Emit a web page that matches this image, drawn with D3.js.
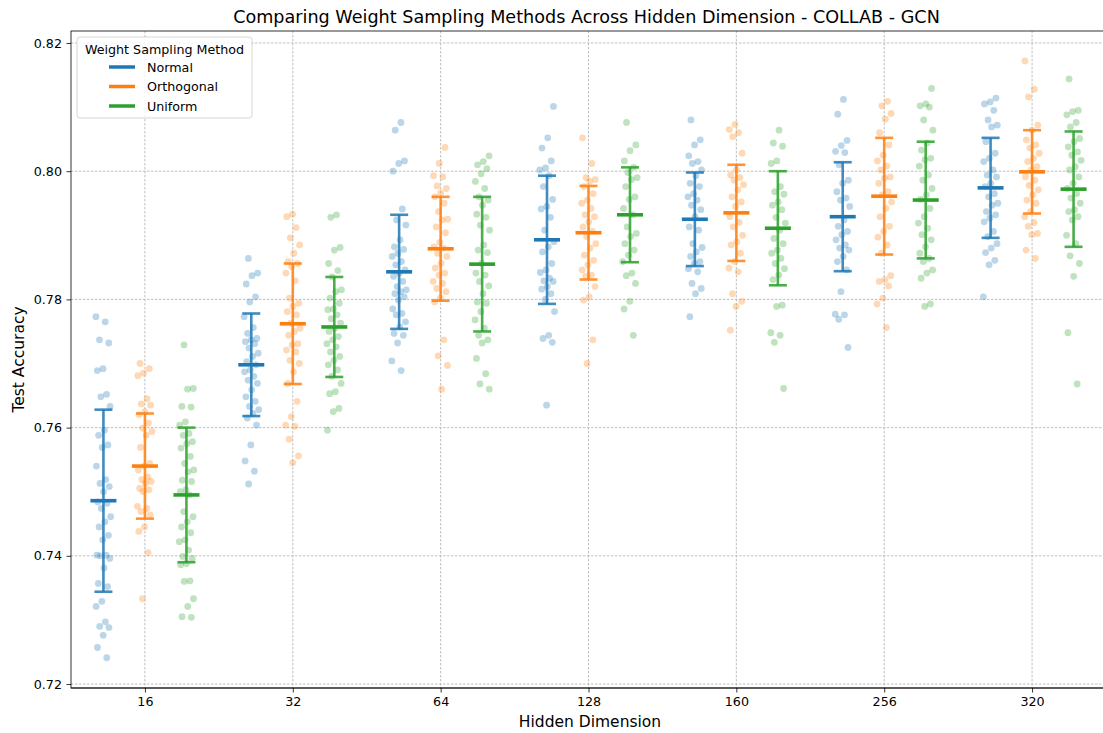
<!DOCTYPE html>
<html>
<head>
<meta charset="utf-8">
<script src="https://cdn.jsdelivr.net/npm/d3@7"></script>
<style>
  body { margin: 0; background: #fff; }
  svg text { font-family: "DejaVu Sans", sans-serif; }
</style>
</head>
<body>
<svg width="1103" height="733"></svg>
<script>
(function () {
    'use strict';

    var dims = ['16', '32', '64', '128', '160', '256', '320'];
    var methods = ['Normal', 'Orthogonal', 'Uniform'];
    var colors = ['#1f77b4', '#ff7f0e', '#2ca02c'];
    var yTicks = [0.72, 0.74, 0.76, 0.78, 0.80, 0.82];

    // mean and std per dim
    var meanNormal = [0.7486, 0.7698, 0.7843, 0.7893, 0.7925, 0.7929, 0.7974];
    var stdNormal  = [0.0142, 0.0080, 0.0089, 0.0100, 0.0073, 0.0085, 0.0078];
    var meanOrtho  = [0.7540, 0.7762, 0.7879, 0.7904, 0.7935, 0.7961, 0.7999];
    var stdOrtho   = [0.0082, 0.0094, 0.0081, 0.0073, 0.0075, 0.0091, 0.0065];
    var meanUnif   = [0.7495, 0.7757, 0.7855, 0.7932, 0.7911, 0.7955, 0.7972];
    var stdUnif    = [0.0105, 0.0078, 0.0105, 0.0074, 0.0089, 0.0091, 0.0090];

    // individual runs
    var runsNormal = [
        [0.7773, 0.7765, 0.7737, 0.7732, 0.7692, 0.7689, 0.7652, 0.7648, 0.7633, 0.7596, 0.7588, 0.7573, 0.7569, 0.7540, 0.7519, 0.7513, 0.7508, 0.7500, 0.7484, 0.7482, 0.7474, 0.7461, 0.7453, 0.7445, 0.7432, 0.7425, 0.7401, 0.7401, 0.7400, 0.7396, 0.7381, 0.7357, 0.7352, 0.7329, 0.7321, 0.7297, 0.7290, 0.7288, 0.7276, 0.7257, 0.7241],
        [0.7864, 0.7841, 0.7837, 0.7824, 0.7804, 0.7796, 0.7773, 0.7756, 0.7747, 0.7739, 0.7737, 0.7734, 0.7731, 0.7724, 0.7716, 0.7711, 0.7703, 0.7698, 0.7690, 0.7687, 0.7680, 0.7674, 0.7669, 0.7659, 0.7648, 0.7641, 0.7633, 0.7628, 0.7622, 0.7615, 0.7604, 0.7573, 0.7548, 0.7532, 0.7512],
        [0.8076, 0.8064, 0.8016, 0.8012, 0.8000, 0.7941, 0.7924, 0.7916, 0.7893, 0.7882, 0.7878, 0.7872, 0.7867, 0.7859, 0.7854, 0.7846, 0.7841, 0.7836, 0.7828, 0.7820, 0.7815, 0.7812, 0.7809, 0.7804, 0.7799, 0.7785, 0.7778, 0.7776, 0.7765, 0.7757, 0.7747, 0.7744, 0.7732, 0.7704, 0.7689],
        [0.8101, 0.8052, 0.8036, 0.8016, 0.8005, 0.8002, 0.7993, 0.7976, 0.7956, 0.7945, 0.7941, 0.7928, 0.7908, 0.7890, 0.7882, 0.7874, 0.7856, 0.7846, 0.7842, 0.7833, 0.7829, 0.7828, 0.7820, 0.7816, 0.7809, 0.7800, 0.7781, 0.7744, 0.7739, 0.7733, 0.7635],
        [0.8080, 0.8049, 0.8041, 0.8024, 0.8015, 0.8012, 0.8002, 0.7993, 0.7981, 0.7976, 0.7965, 0.7960, 0.7955, 0.7947, 0.7940, 0.7929, 0.7913, 0.7908, 0.7887, 0.7881, 0.7874, 0.7867, 0.7859, 0.7856, 0.7848, 0.7843, 0.7825, 0.7817, 0.7809, 0.7773],
        [0.8112, 0.8089, 0.8048, 0.8040, 0.8031, 0.8029, 0.8010, 0.7986, 0.7981, 0.7968, 0.7958, 0.7955, 0.7945, 0.7924, 0.7914, 0.7906, 0.7901, 0.7893, 0.7885, 0.7880, 0.7877, 0.7867, 0.7859, 0.7846, 0.7812, 0.7777, 0.7776, 0.7769, 0.7725],
        [0.8114, 0.8108, 0.8105, 0.8095, 0.8080, 0.8072, 0.8069, 0.8046, 0.8028, 0.8020, 0.8015, 0.8002, 0.7994, 0.7991, 0.7981, 0.7976, 0.7965, 0.7960, 0.7950, 0.7947, 0.7937, 0.7932, 0.7927, 0.7921, 0.7906, 0.7898, 0.7887, 0.7880, 0.7873, 0.7861, 0.7854, 0.7804]
    ];
    var runsOrtho = [
        [0.7700, 0.7692, 0.7685, 0.7681, 0.7645, 0.7637, 0.7635, 0.7625, 0.7620, 0.7607, 0.7599, 0.7594, 0.7588, 0.7569, 0.7544, 0.7540, 0.7534, 0.7523, 0.7519, 0.7516, 0.7513, 0.7505, 0.7503, 0.7500, 0.7477, 0.7474, 0.7469, 0.7464, 0.7445, 0.7438, 0.7405, 0.7333],
        [0.7933, 0.7929, 0.7912, 0.7896, 0.7885, 0.7872, 0.7859, 0.7856, 0.7851, 0.7841, 0.7829, 0.7802, 0.7794, 0.7789, 0.7781, 0.7776, 0.7763, 0.7755, 0.7750, 0.7744, 0.7731, 0.7729, 0.7721, 0.7718, 0.7705, 0.7700, 0.7687, 0.7669, 0.7641, 0.7617, 0.7604, 0.7602, 0.7582, 0.7556, 0.7545],
        [0.8037, 0.8012, 0.7993, 0.7991, 0.7977, 0.7973, 0.7966, 0.7960, 0.7950, 0.7937, 0.7925, 0.7924, 0.7913, 0.7904, 0.7889, 0.7882, 0.7880, 0.7872, 0.7867, 0.7856, 0.7849, 0.7841, 0.7838, 0.7828, 0.7825, 0.7817, 0.7812, 0.7802, 0.7796, 0.7737, 0.7712, 0.7697, 0.7660],
        [0.8052, 0.8012, 0.7990, 0.7987, 0.7984, 0.7976, 0.7965, 0.7955, 0.7950, 0.7942, 0.7932, 0.7929, 0.7921, 0.7913, 0.7906, 0.7898, 0.7887, 0.7880, 0.7869, 0.7861, 0.7854, 0.7846, 0.7838, 0.7836, 0.7820, 0.7804, 0.7799, 0.7737, 0.7700],
        [0.8073, 0.8065, 0.8060, 0.8054, 0.8028, 0.8002, 0.7994, 0.7990, 0.7986, 0.7979, 0.7971, 0.7960, 0.7952, 0.7945, 0.7929, 0.7920, 0.7913, 0.7900, 0.7890, 0.7885, 0.7872, 0.7859, 0.7849, 0.7843, 0.7809, 0.7797, 0.7789, 0.7752],
        [0.8109, 0.8102, 0.8090, 0.8081, 0.8060, 0.8041, 0.8025, 0.8016, 0.8008, 0.8002, 0.7991, 0.7989, 0.7981, 0.7968, 0.7963, 0.7952, 0.7942, 0.7929, 0.7914, 0.7906, 0.7897, 0.7885, 0.7872, 0.7837, 0.7831, 0.7828, 0.7821, 0.7802, 0.7793, 0.7756],
        [0.8172, 0.8128, 0.8116, 0.8072, 0.8064, 0.8049, 0.8041, 0.8036, 0.8028, 0.8020, 0.8015, 0.8007, 0.8002, 0.7991, 0.7986, 0.7978, 0.7971, 0.7963, 0.7955, 0.7950, 0.7937, 0.7929, 0.7920, 0.7914, 0.7903, 0.7901, 0.7877, 0.7864]
    ];
    var runsUnif = [
        [0.7729, 0.7661, 0.7660, 0.7633, 0.7632, 0.7609, 0.7604, 0.7591, 0.7588, 0.7578, 0.7575, 0.7568, 0.7555, 0.7544, 0.7534, 0.7531, 0.7518, 0.7516, 0.7503, 0.7500, 0.7495, 0.7469, 0.7461, 0.7453, 0.7445, 0.7436, 0.7425, 0.7422, 0.7409, 0.7399, 0.7396, 0.7388, 0.7386, 0.7361, 0.7360, 0.7333, 0.7321, 0.7305, 0.7304],
        [0.7932, 0.7928, 0.7881, 0.7877, 0.7856, 0.7845, 0.7835, 0.7815, 0.7812, 0.7802, 0.7794, 0.7785, 0.7784, 0.7776, 0.7770, 0.7763, 0.7755, 0.7750, 0.7742, 0.7737, 0.7731, 0.7726, 0.7718, 0.7711, 0.7705, 0.7698, 0.7690, 0.7680, 0.7669, 0.7656, 0.7653, 0.7630, 0.7625, 0.7596],
        [0.8024, 0.8015, 0.8010, 0.8004, 0.7996, 0.7984, 0.7973, 0.7960, 0.7955, 0.7947, 0.7933, 0.7928, 0.7916, 0.7908, 0.7885, 0.7877, 0.7873, 0.7856, 0.7841, 0.7838, 0.7828, 0.7821, 0.7809, 0.7796, 0.7794, 0.7781, 0.7768, 0.7755, 0.7744, 0.7737, 0.7732, 0.7708, 0.7684, 0.7668, 0.7660],
        [0.8076, 0.8041, 0.8032, 0.8016, 0.8006, 0.7998, 0.7990, 0.7987, 0.7976, 0.7960, 0.7956, 0.7942, 0.7932, 0.7913, 0.7903, 0.7898, 0.7887, 0.7877, 0.7869, 0.7859, 0.7841, 0.7837, 0.7825, 0.7797, 0.7785, 0.7744],
        [0.8064, 0.8044, 0.8039, 0.8016, 0.8012, 0.7976, 0.7968, 0.7964, 0.7952, 0.7947, 0.7940, 0.7928, 0.7919, 0.7908, 0.7895, 0.7887, 0.7877, 0.7872, 0.7864, 0.7856, 0.7848, 0.7838, 0.7831, 0.7791, 0.7789, 0.7748, 0.7744, 0.7733, 0.7661],
        [0.8129, 0.8105, 0.8102, 0.8100, 0.8080, 0.8064, 0.8044, 0.8033, 0.8020, 0.8018, 0.8008, 0.7994, 0.7986, 0.7973, 0.7963, 0.7956, 0.7942, 0.7929, 0.7919, 0.7911, 0.7901, 0.7893, 0.7882, 0.7872, 0.7864, 0.7859, 0.7846, 0.7841, 0.7833, 0.7793, 0.7789],
        [0.8144, 0.8095, 0.8093, 0.8088, 0.8076, 0.8069, 0.8051, 0.8046, 0.8038, 0.8030, 0.8025, 0.8017, 0.8007, 0.8002, 0.7991, 0.7981, 0.7973, 0.7965, 0.7958, 0.7950, 0.7940, 0.7937, 0.7929, 0.7924, 0.7900, 0.7887, 0.7868, 0.7856, 0.7836, 0.7748, 0.7668]
    ];

    var means = [meanNormal, meanOrtho, meanUnif];
    var stds = [stdNormal, stdOrtho, stdUnif];
    var runs = [runsNormal, runsOrtho, runsUnif];

    var svg = d3.select('svg');
    var left = 71, right = 1106, top = 31, bottom = 688;

    var x = d3.scalePoint().domain(dims).range([left, right]).padding(0.5);
    var dodge = d3.scalePoint().domain(methods).range([-41.5, 41.5]);
    var y = d3.scaleLinear().domain([0.71938, 0.82187]).range([bottom, top]);
    var color = d3.scaleOrdinal().domain(methods).range(colors);

    // grid
    var grid = svg.append('g')
        .attr('stroke', '#b0b0b0')
        .attr('stroke-width', 0.8)
        .attr('stroke-dasharray', '2.5,1.5');
    grid.selectAll('.gy').data(yTicks).enter().append('line')
        .attr('x1', left).attr('x2', right)
        .attr('y1', function (d) { return y(d); })
        .attr('y2', function (d) { return y(d); });
    grid.selectAll('.gx').data(dims).enter().append('line')
        .attr('y1', top).attr('y2', bottom)
        .attr('x1', function (d) { return x(d); })
        .attr('x2', function (d) { return x(d); });

    // jittered points
    var pts = [];
    methods.forEach(function (m, mi) {
        dims.forEach(function (d, di) {
            runs[mi][di].forEach(function (v, i) {
                var j = ((i * 0.618034 + di * 0.31 + mi * 0.17) % 1) - 0.5;
                pts.push({ m: m, d: d, v: v, j: j });
            });
        });
    });
    svg.append('g').selectAll('circle').data(pts).enter().append('circle')
        .attr('cx', function (p) { return x(p.d) + dodge(p.m) + p.j * 15; })
        .attr('cy', function (p) { return y(p.v); })
        .attr('r', 3.4)
        .attr('fill', function (p) { return color(p.m); })
        .attr('fill-opacity', 0.3);

    // error bars and means
    var stats = [];
    methods.forEach(function (m, mi) {
        dims.forEach(function (d, di) {
            stats.push({ m: m, d: d, mean: means[mi][di], sd: stds[mi][di] });
        });
    });
    var eb = svg.append('g').selectAll('g').data(stats).enter().append('g')
        .attr('transform', function (s) { return 'translate(' + (x(s.d) + dodge(s.m)) + ',0)'; })
        .attr('stroke', function (s) { return color(s.m); });
    eb.append('line')
        .attr('y1', function (s) { return y(s.mean - s.sd); })
        .attr('y2', function (s) { return y(s.mean + s.sd); })
        .attr('stroke-width', 2.6).attr('stroke-opacity', 0.85);
    eb.append('line')
        .attr('x1', -9).attr('x2', 9)
        .attr('y1', function (s) { return y(s.mean + s.sd); })
        .attr('y2', function (s) { return y(s.mean + s.sd); })
        .attr('stroke-width', 2.6).attr('stroke-opacity', 0.85);
    eb.append('line')
        .attr('x1', -9).attr('x2', 9)
        .attr('y1', function (s) { return y(s.mean - s.sd); })
        .attr('y2', function (s) { return y(s.mean - s.sd); })
        .attr('stroke-width', 2.6).attr('stroke-opacity', 0.85);
    eb.append('line')
        .attr('x1', -13).attr('x2', 13)
        .attr('y1', function (s) { return y(s.mean); })
        .attr('y2', function (s) { return y(s.mean); })
        .attr('stroke-width', 3.6);

    // axes
    var yAxis = svg.append('g')
        .attr('transform', 'translate(' + left + ',0)')
        .call(d3.axisLeft(y).tickValues(yTicks).tickFormat(d3.format('.2f')).tickSize(4.5).tickPadding(4.5));
    var xAxis = svg.append('g')
        .attr('transform', 'translate(0,' + bottom + ')')
        .call(d3.axisBottom(x).tickSize(4.5).tickPadding(4.5));
    [xAxis, yAxis].forEach(function (a) {
        a.select('.domain').remove();
        a.selectAll('text').attr('font-size', 12.7).attr('fill', '#000');
        a.selectAll('line').attr('stroke', '#000').attr('stroke-width', 0.8);
    });

    // spines
    svg.append('rect')
        .attr('x', left).attr('y', top)
        .attr('width', right - left).attr('height', bottom - top)
        .attr('fill', 'none').attr('stroke', '#000').attr('stroke-width', 0.8);
    svg.append('line')
        .attr('x1', left).attr('x2', right)
        .attr('y1', bottom).attr('y2', bottom)
        .attr('stroke', '#000').attr('stroke-width', 0.8);

    // labels
    svg.append('text')
        .attr('x', (left + right) / 2 - 2).attr('y', 23)
        .attr('text-anchor', 'middle').attr('font-size', 17.6)
        .text('Comparing Weight Sampling Methods Across Hidden Dimension - COLLAB - GCN');
    svg.append('text')
        .attr('x', 590).attr('y', 727)
        .attr('text-anchor', 'middle').attr('font-size', 15.5)
        .text('Hidden Dimension');
    svg.append('text')
        .attr('transform', 'translate(24,' + ((top + bottom) / 2) + ') rotate(-90)')
        .attr('text-anchor', 'middle').attr('font-size', 15.5)
        .text('Test Accuracy');

    // legend
    var lg = svg.append('g').attr('transform', 'translate(77,37)');
    lg.append('rect')
        .attr('width', 175).attr('height', 81).attr('rx', 3)
        .attr('fill', '#fff').attr('fill-opacity', 0.8)
        .attr('stroke', '#cccccc').attr('stroke-width', 0.8);
    lg.append('text')
        .attr('x', 87.5).attr('y', 16.5).attr('text-anchor', 'middle')
        .attr('font-size', 12.7).text('Weight Sampling Method');
    var items = lg.selectAll('.item').data(methods).enter().append('g')
        .attr('transform', function (d, i) { return 'translate(0,' + (30 + i * 19.5) + ')'; });
    items.append('line')
        .attr('x1', 32).attr('x2', 58)
        .attr('stroke', function (d) { return color(d); })
        .attr('stroke-width', 3.5);
    items.append('text')
        .attr('x', 70).attr('y', 4.5).attr('font-size', 12.7)
        .text(function (d) { return d; });
}());
</script>
</body>
</html>
